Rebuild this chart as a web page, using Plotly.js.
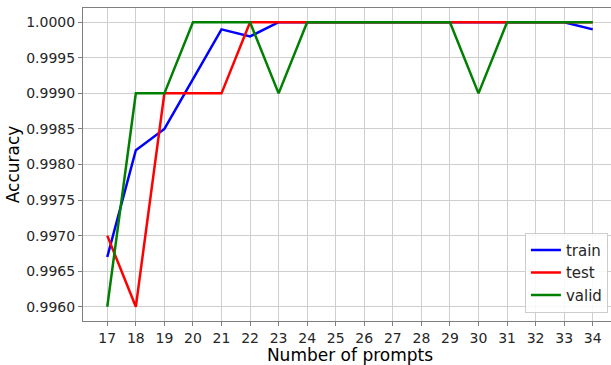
<!DOCTYPE html>
<html>
<head>
<meta charset="utf-8">
<script src="https://cdn.plot.ly/plotly-3.0.1.min.js"></script>
<style>
html, body { margin: 0; padding: 0; overflow: hidden; background: #fff; }
#chart { width: 617px; height: 365px; }
</style>
</head>
<body>
<div id="chart"></div>
<script>
const prompts = [17, 18, 19, 20, 21, 22, 23, 24, 25, 26, 27, 28, 29, 30, 31, 32, 33, 34];
const trainAcc = [0.9967, 0.9982, 0.9985, 0.9992, 0.9999, 0.9998, 1.0, 1.0, 1.0, 1.0, 1.0, 1.0, 1.0, 1.0, 1.0, 1.0, 1.0, 0.9999];
const testAcc  = [0.9970, 0.9960, 0.9990, 0.9990, 0.9990, 1.0, 1.0, 1.0, 1.0, 1.0, 1.0, 1.0, 1.0, 1.0, 1.0, 1.0, 1.0, 1.0];
const validAcc = [0.9960, 0.9990, 0.9990, 1.0, 1.0, 1.0, 0.9990, 1.0, 1.0, 1.0, 1.0, 1.0, 1.0, 0.9990, 1.0, 1.0, 1.0, 1.0];
const yTicks = [0.9960, 0.9965, 0.9970, 0.9975, 0.9980, 0.9985, 0.9990, 0.9995, 1.0000];
const yTickText = ["0.9960", "0.9965", "0.9970", "0.9975", "0.9980", "0.9985", "0.9990", "0.9995", "1.0000"];

const font = "DejaVu Sans, sans-serif";
const traces = [
  { x: prompts, y: trainAcc, name: "train", mode: "lines", line: { color: "#0000ff", width: 2.5 } },
  { x: prompts, y: testAcc, name: "test", mode: "lines", line: { color: "#ff0000", width: 2.5 } },
  { x: prompts, y: validAcc, name: "valid", mode: "lines", line: { color: "#008000", width: 2.5 } }
];

const layout = {
  width: 617, height: 365,
  margin: { l: 83, r: 0, t: 8, b: 44 },
  paper_bgcolor: "#ffffff", plot_bgcolor: "#ffffff",
  font: { family: font, size: 14, color: "#262626" },
  xaxis: {
    range: [16.15, 34.85],
    tickvals: prompts, ticktext: prompts.map(String),
    showgrid: true, gridcolor: "#cfcfcf", gridwidth: 1,
    zeroline: false,
    showline: true, linecolor: "#7f7f7f", linewidth: 1, mirror: true,
    ticks: "outside", ticklen: 4, tickcolor: "#7f7f7f",
    tickfont: { family: font, size: 14, color: "#262626" },
    title: { text: "Number of prompts", font: { family: font, size: 17, color: "#000" }, standoff: 7 }
  },
  yaxis: {
    range: [0.9958, 1.0002],
    tickvals: yTicks, ticktext: yTickText,
    showgrid: true, gridcolor: "#cfcfcf", gridwidth: 1,
    zeroline: false,
    showline: true, linecolor: "#7f7f7f", linewidth: 1, mirror: true,
    ticks: "outside", ticklen: 4, tickcolor: "#7f7f7f",
    tickfont: { family: font, size: 14, color: "#262626" },
    title: { text: "Accuracy", font: { family: font, size: 17, color: "#000" }, standoff: 2 }
  },
  showlegend: true,
  legend: {
    x: 0.983, y: 0.026, xanchor: "right", yanchor: "bottom",
    bgcolor: "rgba(255,255,255,0.85)", bordercolor: "#cccccc", borderwidth: 1,
    font: { family: font, size: 15, color: "#262626" }
  }
};

Plotly.newPlot("chart", traces, layout, { displayModeBar: false, staticPlot: true, responsive: false });
</script>
</body>
</html>
